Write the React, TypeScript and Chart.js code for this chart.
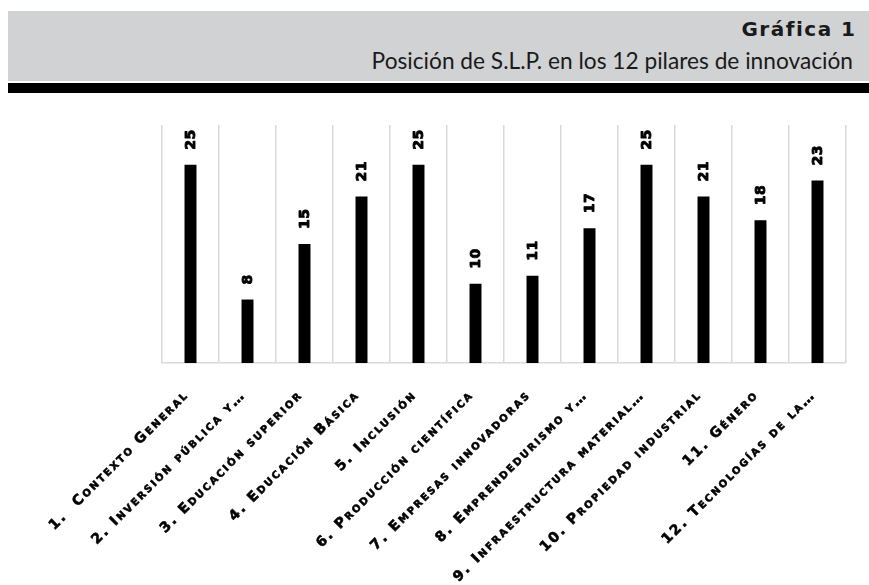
import React, { useEffect, useRef } from 'react';
import { Chart, registerables } from 'chart.js';

Chart.register(...registerables);

const chartTitle = 'Gráfica 1';
const chartSubtitle = 'Posición de S.L.P. en los 12 pilares de innovación';

const categories = [
  '1.  Contexto General',
  '2. Inversión pública y…',
  '3. Educación superior',
  '4. Educación Básica',
  '5. Inclusión',
  '6. Producción científica',
  '7. Empresas innovadoras',
  '8. Emprendedurismo y…',
  '9. Infraestructura material…',
  '10. Propiedad industrial',
  '11. Género',
  '12. Tecnologías de la…',
];

const positions = [25, 8, 15, 21, 25, 10, 11, 17, 25, 21, 18, 23];

const yMin = 0;
const yMax = 30;

const LABEL_SPACING = '2.1px';

const spacingPlugin = {
  id: 'tickSpacing',
  beforeLayout(chart: any) {
    chart.ctx.letterSpacing = LABEL_SPACING;
  },
  beforeDraw(chart: any) {
    chart.ctx.letterSpacing = LABEL_SPACING;
  },
};

const valueLabelPlugin = {
  id: 'valueLabels',
  afterDatasetsDraw(chart: any) {
    const ctx = chart.ctx;
    const meta = chart.getDatasetMeta(0);
    ctx.save();
    ctx.letterSpacing = '0.5px';
    ctx.font = 'bold 14px "DejaVu Sans"';
    ctx.fillStyle = '#000000';
    ctx.strokeStyle = '#000000';
    ctx.lineWidth = 0.9;
    ctx.lineJoin = 'round';
    ctx.textAlign = 'left';
    ctx.textBaseline = 'middle';
    meta.data.forEach((bar: any, i: number) => {
      ctx.save();
      ctx.translate(bar.x + 1, bar.y - 15);
      ctx.rotate(-Math.PI / 2);
      ctx.fillText(String(positions[i]), 0, 0);
      ctx.strokeText(String(positions[i]), 0, 0);
      ctx.restore();
    });
    ctx.restore();
  },
};

export default function App() {
  const canvasRef = useRef<HTMLCanvasElement | null>(null);

  useEffect(() => {
    if (!canvasRef.current) return;
    const chart = new Chart(canvasRef.current, {
      type: 'bar',
      data: {
        labels: categories,
        datasets: [
          {
            data: positions,
            backgroundColor: '#000000',
            borderWidth: 0,
            barPercentage: 0.21,
            categoryPercentage: 1,
          },
        ],
      },
      options: {
        animation: false,
        responsive: false,
        maintainAspectRatio: false,
        layout: { padding: { left: 162, right: 23, top: 25, bottom: 0 } },
        plugins: {
          legend: { display: false },
          tooltip: { enabled: false },
          title: { display: false },
        },
        scales: {
          x: {
            offset: true,
            grid: {
              display: true,
              offset: true,
              color: '#d9d9d9',
              lineWidth: 1.5,
              drawTicks: false,
            },
            border: { display: true, color: '#d9d9d9', width: 1.5 },
            ticks: {
              color: '#000000',
              maxRotation: 45,
              minRotation: 45,
              autoSkip: false,
              padding: 24,
              labelOffset: -4,
              textStrokeColor: '#000000',
              textStrokeWidth: 0.6,
              font: { family: '"DejaVu Sans"', size: 14, weight: 'small-caps bold' as any },
            },
            afterFit: (scale: any) => {
              scale.height = 222;
            },
          },
          y: {
            display: false,
            min: yMin,
            max: yMax,
          },
        },
      },
      plugins: [spacingPlugin, valueLabelPlugin],
    });
    return () => chart.destroy();
  }, []);

  return (
    <div style={{ position: 'absolute', left: 0, top: 0, width: 869, height: 585, background: '#ffffff', overflow: 'hidden' }}>
      <div
        style={{
          position: 'absolute',
          left: 8,
          top: 11,
          width: 861,
          height: 70,
          background: '#d1d2d4',
        }}
      >
        <div
          style={{
            position: 'absolute',
            right: 12.5,
            top: 6,
            fontFamily: '"DejaVu Sans", sans-serif',
            fontWeight: 700,
            fontSize: 20,
            letterSpacing: '1.5px',
            lineHeight: '24px',
            color: '#1a1a1a',
            whiteSpace: 'nowrap',
          }}
        >
          {chartTitle}
        </div>
        <div
          style={{
            position: 'absolute',
            right: 16,
            top: 36,
            fontFamily: 'Lato, sans-serif',
            fontWeight: 400,
            fontSize: 22.7,
            lineHeight: '28px',
            color: '#1a1a1a',
            whiteSpace: 'nowrap',
          }}
        >
          {chartSubtitle}
        </div>
      </div>
      <div style={{ position: 'absolute', left: 8, top: 83, width: 861, height: 10, background: '#000000' }} />
      <canvas
        ref={canvasRef}
        width={869}
        height={485}
        style={{ position: 'absolute', left: 0, top: 100, width: 869, height: 485 }}
      />
    </div>
  );
}
